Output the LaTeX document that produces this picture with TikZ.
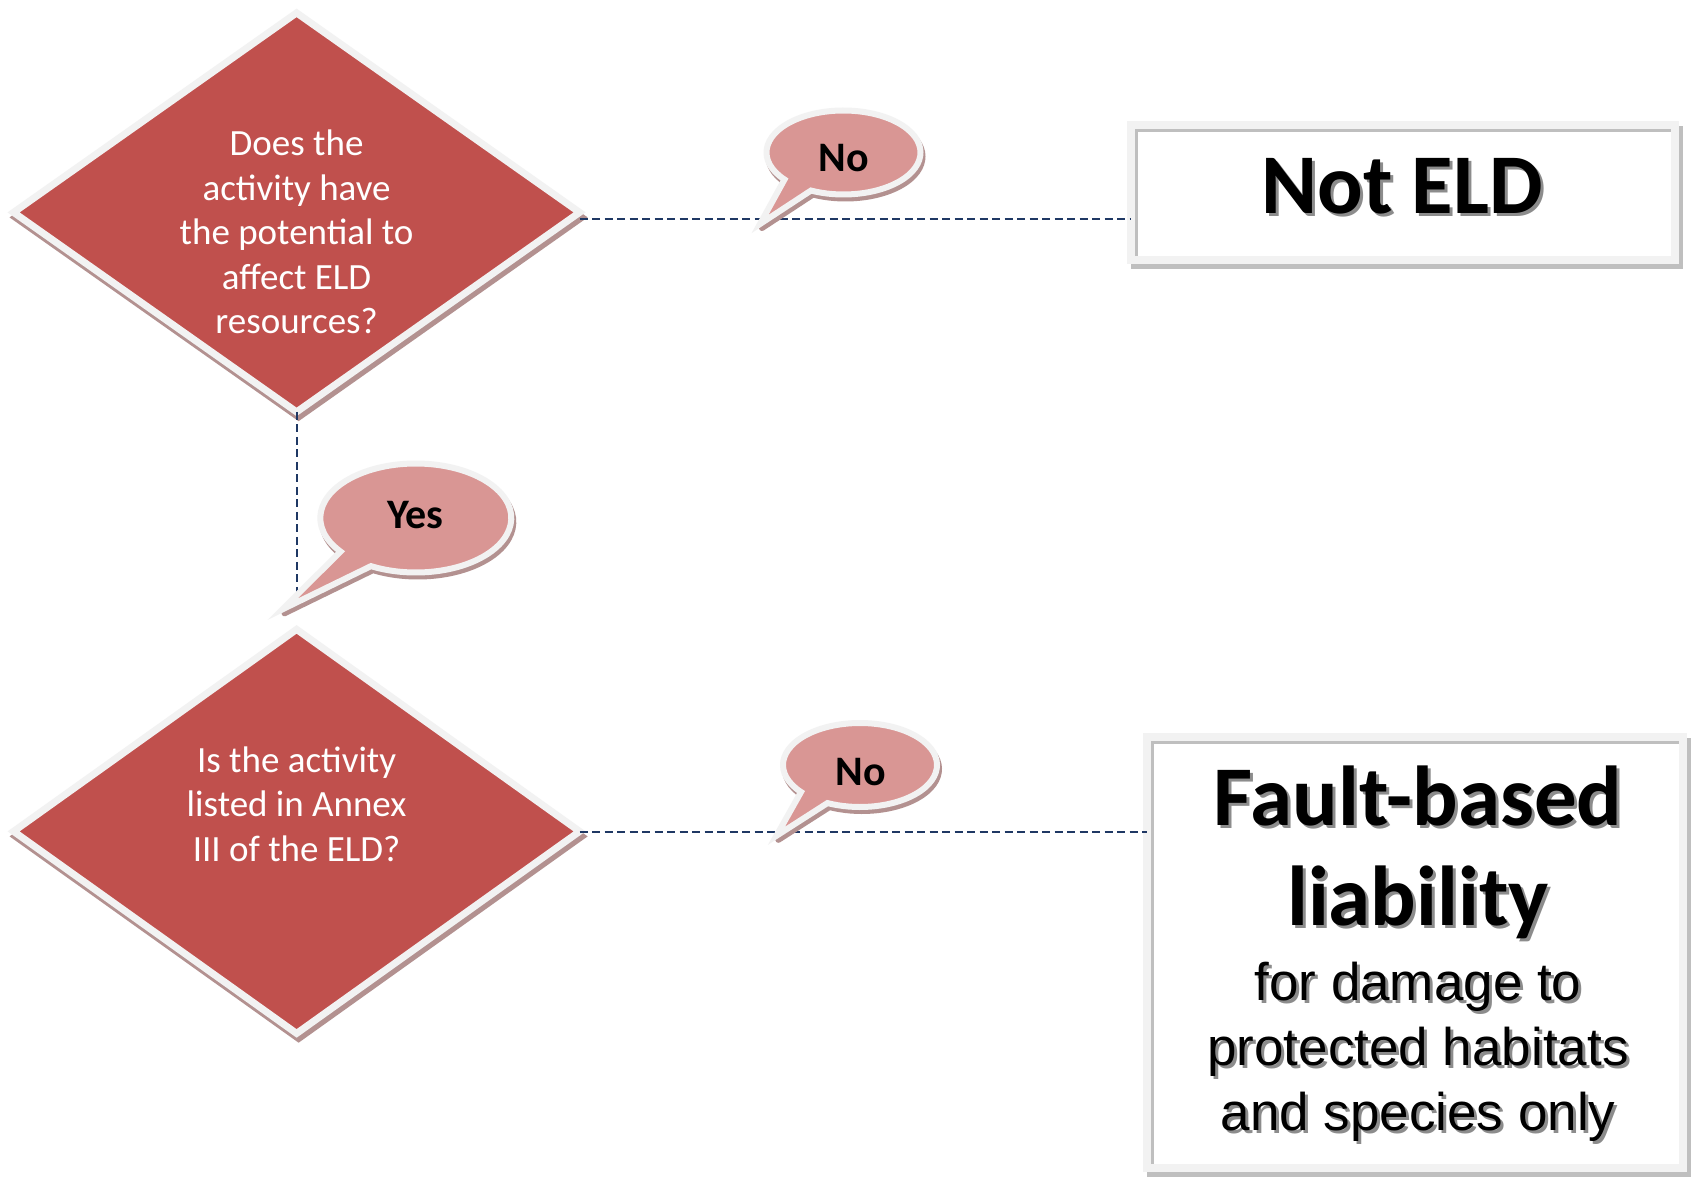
\documentclass[tikz,border=0pt]{standalone}
\usepackage{fontspec}
\setmainfont{Carlito}
\newfontfamily\arialfont{Liberation Sans}
\usetikzlibrary{shapes.geometric}

\definecolor{diafill}{HTML}{C0504D}
\definecolor{rim}{HTML}{F2F2F2}
\definecolor{redshade}{HTML}{B39190}
\definecolor{bubblefill}{HTML}{D99694}
\definecolor{linkblue}{HTML}{1F3864}
\definecolor{boxshade}{HTML}{BFBFBF}
\definecolor{textshade}{HTML}{8C8C8C}

% text with a soft grey drop shadow
\newcommand{\shadowed}[1]{\rlap{\kern3pt\raisebox{-3pt}{\color{textshade}#1}}#1}

% speech bubble: style, centre, x radius, y radius, start angle, end angle, tip
\newcommand{\bubble}[7]{%
  \path[#1] (#2) ++(#5:#3 and #4)
    arc[start angle=#5, end angle=#6, x radius=#3, y radius=#4] -- (#7) -- cycle;}

\begin{document}
\begin{tikzpicture}[x=1pt, y=-1pt,
  dia/.style={shape=diamond, inner sep=0pt, outer sep=0pt, minimum width=566,
              line width=7pt, line join=miter},
  diamain/.style={dia, fill=diafill, draw=rim},
  diashade/.style={dia, fill=redshade, draw=redshade, xshift=2pt, yshift=-5pt},
  boxbase/.style={shape=rectangle, inner sep=0pt, outer sep=0pt, line width=8pt},
  boxmain/.style={boxbase, fill=white, draw=rim},
  boxshadow/.style={boxbase, fill=boxshade, draw=boxshade, xshift=4pt, yshift=-5pt},
  insetline/.style={draw=boxshade, line width=3pt},
  conn/.style={draw=linkblue, line width=2pt, dash pattern=on 8pt off 4.5pt},
  bubbleshade/.style={fill=redshade, draw=redshade, line width=6pt, line join=round,
                      xshift=2pt, yshift=-4pt},
  bubblemain/.style={fill=bubblefill, draw=rim, line width=6pt, line join=miter, miter limit=10},
  dtext/.style={text=white, align=center, inner sep=0pt,
                font=\fontsize{37}{44.5}\selectfont},
  btext/.style={inner sep=0pt, font=\fontsize{42}{50}\selectfont\bfseries},
  bigbold/.style={inner sep=0pt, font=\fontsize{85}{100}\selectfont\bfseries},
  plainsans/.style={inner sep=0pt, font=\arialfont\fontsize{53}{65}\selectfont}
]
\fill[white] (0,0) rectangle (1691,1182);
\useasboundingbox (0,0) rectangle (1691,1182);

% decision diamonds
\node[diashade, minimum height=399] (d1s) at (296.6,212.4) {};
\node[diamain,  minimum height=399] (d1)  at (296.6,212.4) {};
\node[diashade, minimum height=404] (d2s) at (296.6,831.4) {};
\node[diamain,  minimum height=404] (d2)  at (296.6,831.4) {};

% outcome boxes
\node[boxshadow, minimum width=544, minimum height=135.4] (b1s) at (1403,192.5) {};
\node[boxmain,   minimum width=544, minimum height=135.4] (b1)  at (1403,192.5) {};
\draw[insetline] ([shift={(5.5,-4)}]b1.south west) |- ([shift={(-4,5.5)}]b1.north east);

\node[boxshadow, minimum width=536, minimum height=430.7] (b2s) at (1415,952.6) {};
\node[boxmain,   minimum width=536, minimum height=430.7] (b2)  at (1415,952.6) {};
\draw[insetline] ([shift={(5.5,-4)}]b2.south west) |- ([shift={(-4,5.5)}]b2.north east);

% connectors
\draw[conn] ([yshift=-7pt]d1.east) -- ([yshift=-7pt]d1.east -| b1.west);
\coordinate (yesend) at (296.6,597);
\draw[conn] (d1.south) -- (yesend);
\draw[conn] ([yshift=-1pt]d2.east) -- ([yshift=-1pt]d2.east -| b2.west);

% answer bubbles
\bubble{bubbleshade}{843.5,152.5}{77}{42}{140}{475}{760,224}
\bubble{bubblemain}{843.5,152.5}{77}{42}{140}{475}{760,224}
\bubble{bubbleshade}{415.8,518}{95.5}{54.5}{142}{478}{282.5,609.3}
\bubble{bubblemain}{415.8,518}{95.5}{54.5}{142}{478}{282.5,609.3}
\bubble{bubbleshade}{860,765}{77}{42}{140}{475}{776.4,835.8}
\bubble{bubblemain}{860,765}{77}{42}{140}{475}{776.4,835.8}

% texts
\node[dtext] (q1) at (296.6,232) {Does the\\activity have\\the potential to\\affect ELD\\resources?};
\node[dtext] (q2) at (296.6,804) {Is the activity\\listed in Annex\\III of the ELD?};

\node[btext] (no1)  at (844,158.5) {No};
\node[btext] (yes)  at (415.2,515.5) {Yes};
\node[btext] (no2)  at (860.6,772) {No};

\node[bigbold, anchor=base] (ne) at (1402,213.5) {\shadowed{Not ELD}};
\node[bigbold, anchor=base] (fb1) at (1418,825) {\shadowed{Fault-based}};
\node[bigbold, anchor=base] (fb2) at (1418,925) {\shadowed{liability}};
\node[plainsans, anchor=base] (fb3) at (1418,1000.7) {\shadowed{for damage to}};
\node[plainsans, anchor=base] (fb4) at (1418,1065.7) {\shadowed{protected habitats}};
\node[plainsans, anchor=base] (fb5) at (1418,1130.7) {\shadowed{and species only}};
\end{tikzpicture}
\end{document}
